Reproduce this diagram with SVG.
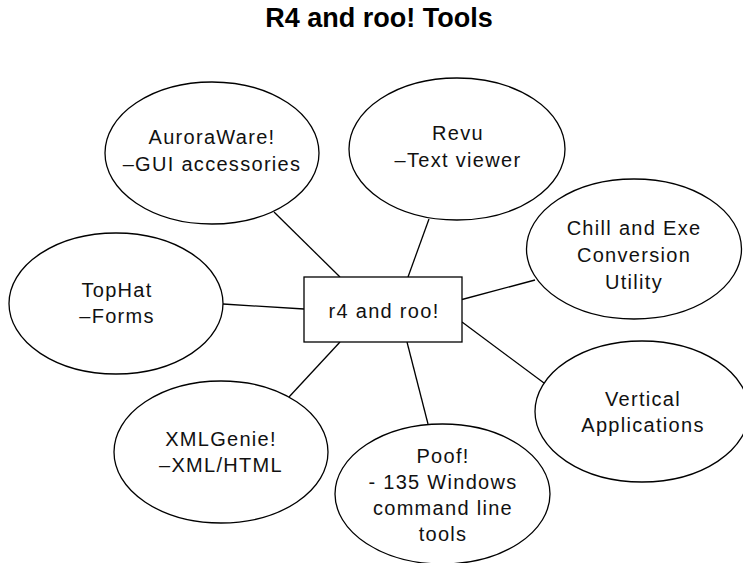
<svg xmlns="http://www.w3.org/2000/svg" width="743" height="563" viewBox="0 0 743 563">
<style>
.n{fill:#fff;stroke:#000;stroke-width:1.3}
.t{font-family:"Liberation Sans",Arial,sans-serif;font-size:20px;letter-spacing:1.3px;text-anchor:middle;fill:#111}
.c line{stroke:#000;stroke-width:1.3}
.title{font-family:"Liberation Sans",Arial,sans-serif;font-size:27px;font-weight:bold;text-anchor:middle;fill:#000}
</style>
<rect width="743" height="563" fill="#fff"/>
<text class="title" x="379" y="27">R4 and roo! Tools</text>
<g class="c" id="connectors">
<line x1="274" y1="212" x2="340" y2="277"/>
<line x1="429" y1="219" x2="408" y2="277"/>
<line x1="535" y1="280" x2="462" y2="299.5"/>
<line x1="223" y1="304" x2="304" y2="309"/>
<line x1="340" y1="342" x2="289" y2="397"/>
<line x1="407" y1="342" x2="428" y2="424"/>
<line x1="462" y1="322" x2="544" y2="383"/>
</g>
<g id="center">
<rect class="n" x="304" y="277" width="158" height="65"/>
<text class="t" x="384" y="318">r4 and roo!</text>
</g>
<g id="aurora">
<ellipse class="n" cx="212" cy="153" rx="107" ry="71"/>
<text class="t" x="212" y="144">AuroraWare!</text>
<text class="t" x="212" y="171">–GUI accessories</text>
</g>
<g id="revu">
<ellipse class="n" cx="457" cy="149" rx="108" ry="71"/>
<text class="t" x="458" y="140">Revu</text>
<text class="t" x="458" y="167">–Text viewer</text>
</g>
<g id="chill">
<ellipse class="n" cx="634" cy="249" rx="107.5" ry="70"/>
<text class="t" x="634" y="235">Chill and Exe</text>
<text class="t" x="634" y="262">Conversion</text>
<text class="t" x="634" y="289">Utility</text>
</g>
<g id="tophat">
<ellipse class="n" cx="116" cy="303.5" rx="107" ry="70.5"/>
<text class="t" x="117" y="297">TopHat</text>
<text class="t" x="117" y="323">–Forms</text>
</g>
<g id="vertical">
<ellipse class="n" cx="642" cy="411.5" rx="107" ry="70.5"/>
<text class="t" x="643" y="406">Vertical</text>
<text class="t" x="643" y="432">Applications</text>
</g>
<g id="xmlgenie">
<ellipse class="n" cx="221" cy="452" rx="107" ry="71"/>
<text class="t" x="221" y="446">XMLGenie!</text>
<text class="t" x="221" y="472">–XML/HTML</text>
</g>
<g id="poof">
<ellipse class="n" cx="442.5" cy="494" rx="107.5" ry="70"/>
<text class="t" x="443" y="463">Poof!</text>
<text class="t" x="443" y="489">- 135 Windows</text>
<text class="t" x="443" y="515">command line</text>
<text class="t" x="443" y="541">tools</text>
</g>
</svg>
